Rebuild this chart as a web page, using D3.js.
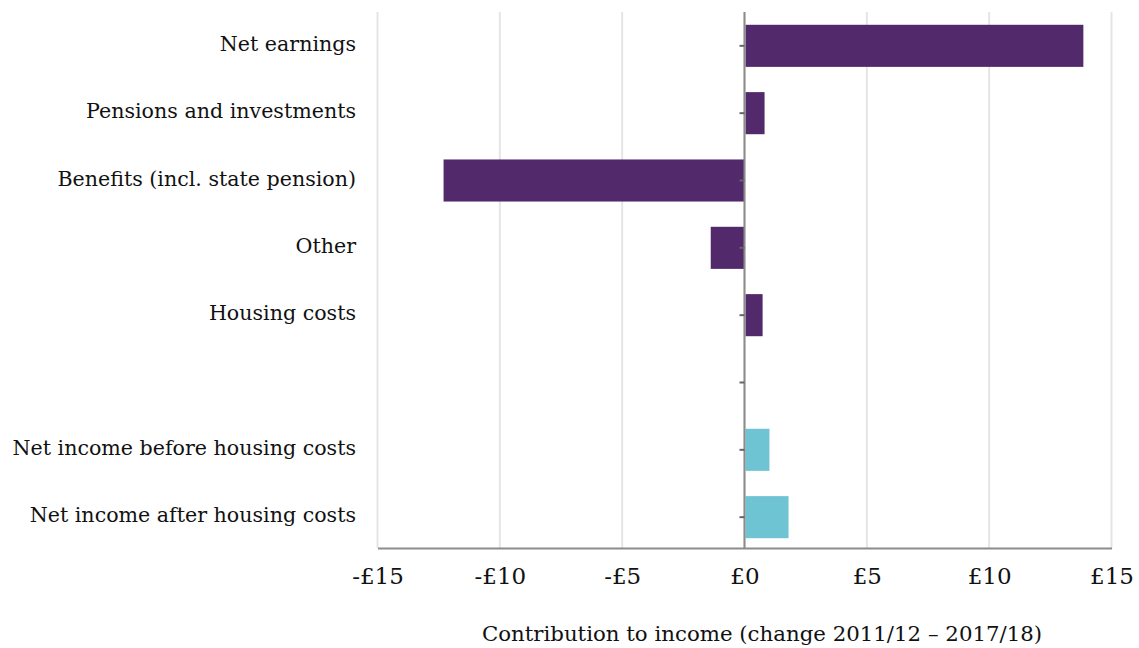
<!DOCTYPE html>
<html><head><meta charset="utf-8">
<script src="https://cdn.jsdelivr.net/npm/d3@7"></script>
<style>body{margin:0;background:#fff;} svg{display:block;}</style>
</head><body>
<svg id="c" width="1139" height="648"></svg>
<script>
const categories = ["Net earnings","Pensions and investments","Benefits (incl. state pension)","Other","Housing costs","","Net income before housing costs","Net income after housing costs"];
const values = [13.85, 0.82, -12.3, -1.38, 0.74, null, 1.02, 1.8];
const seriesType = ["component","component","component","component","component","gap","total","total"];
const xTicks = [-15,-10,-5,0,5,10,15];
const xTickLabels = ["-£15","-£10","-£5","£0","£5","£10","£15"];
const axisTitle = "Contribution to income (change 2011/12 \u2013 2017/18)";

const colors = {component:"#522a6b", total:"#6fc4d4"};
const font = "'DejaVu Serif', serif";
const svg = d3.select("#c");
const x = d3.scaleLinear().domain([-15,15]).range([377.5,1111.5]);
const y = d3.scaleBand().domain(d3.range(categories.length)).range([12,551]).paddingInner(0.375).paddingOuter(0.19);

// gridlines
svg.append("g").selectAll("line").data(xTicks).join("line")
  .attr("x1",d=>x(d)).attr("x2",d=>x(d)).attr("y1",12).attr("y2",548)
  .attr("stroke","#e5e5e5").attr("stroke-width",2);

// bars
svg.append("g").selectAll("rect").data(values.map((v,i)=>({v,i})).filter(d=>d.v!==null)).join("rect")
  .attr("x",d=>d.v>=0?x(0)+1:x(d.v))
  .attr("width",d=>Math.abs(x(d.v)-x(0))-(d.v>=0?1:0))
  .attr("y",d=>y(d.i)).attr("height",y.bandwidth())
  .attr("fill",d=>colors[seriesType[d.i]]);

// bottom axis
const xAxis = d3.axisBottom(x).tickValues(xTicks).tickFormat((d,i)=>xTickLabels[i]).tickSize(0).tickPadding(20);
const gx = svg.append("g").attr("transform","translate(0,548)").call(xAxis);
gx.select(".domain").attr("stroke","#8c8c8c").attr("stroke-width",2);
gx.selectAll("text").attr("font-family",font).attr("font-size",23).attr("fill","#111");

// zero axis with category ticks
const yAxis = d3.axisLeft(y).tickFormat(i=>categories[i]).tickSize(5).tickSizeOuter(0).tickPadding(0);
const gy = svg.append("g").attr("transform",`translate(${x(0)},0)`).call(yAxis);
gy.select(".domain").attr("stroke","#8c8c8c").attr("stroke-width",2).attr("d","M0,12V548");
gy.selectAll(".tick line").attr("stroke","#666").attr("stroke-width",2);
gy.selectAll(".tick text").remove();

// category labels
svg.append("g").selectAll("text").data(categories).join("text")
  .attr("x",356).attr("y",(d,i)=>y(i)+y.bandwidth()/2 - 2).attr("dy","0.35em")
  .attr("text-anchor","end").attr("font-family",font).attr("font-size",20.6).attr("fill","#111")
  .text(d=>d);

svg.append("text").attr("x",762).attr("y",641).attr("text-anchor","middle")
  .attr("font-family",font).attr("font-size",21.3).attr("fill","#111").text(axisTitle);
</script>
</body></html>
